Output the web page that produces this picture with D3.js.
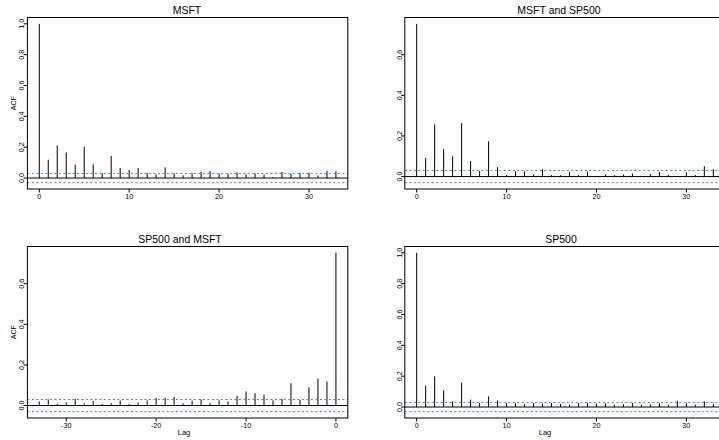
<!DOCTYPE html>
<html>
<head>
<meta charset="utf-8">
<script src="https://cdn.jsdelivr.net/npm/d3@7"></script>
<style>
  body { margin: 0; background: #fff; }
  text { font-family: "Liberation Sans", Arial, Helvetica, sans-serif; fill: #000; }
</style>
</head>
<body>
<div class="chart"></div>
<script>
// ACF of MSFT / SP500 returns

var lags = [0, 1, 2, 3, 4, 5, 6, 7, 8, 9, 10, 11, 12, 13, 14, 15, 16,
  17, 18, 19, 20, 21, 22, 23, 24, 25, 26, 27, 28, 29, 30, 31, 32, 33];
var crossLags = [-33, -32, -31, -30, -29, -28, -27, -26, -25, -24, -23, -22, -21, -20, -19, -18, -17,
  -16, -15, -14, -13, -12, -11, -10, -9, -8, -7, -6, -5, -4, -3, -2, -1, 0];

var msftAcf = [1.0, 0.119, 0.212, 0.165, 0.087, 0.203, 0.089, 0.032, 0.143, 0.065, 0.052, 0.065,
  0.032, 0.024, 0.069, 0.030, 0.017, 0.032, 0.039, 0.045, 0.030, 0.028, 0.037, 0.024,
  0.030, 0.022, 0.006, 0.039, 0.026, 0.032, 0.035, 0.017, 0.048, 0.045];
var msftSp500Acf = [0.752, 0.092, 0.257, 0.135, 0.100, 0.263, 0.076, 0.028, 0.174, 0.046, 0.008, 0.026,
  0.026, 0.010, 0.036, 0.007, 0.007, 0.023, 0.007, 0.025, 0.003, 0.010, 0.007, 0.010,
  0.015, 0.003, 0.013, 0.023, 0.008, 0.003, 0.021, 0.008, 0.051, 0.036];
var sp500MsftAcf = [0.020, 0.030, 0.008, 0.016, 0.033, 0.010, 0.023, 0.008, 0.011, 0.025, 0.007, 0.015,
  0.025, 0.038, 0.038, 0.043, 0.011, 0.025, 0.031, 0.011, 0.026, 0.020, 0.048, 0.069,
  0.061, 0.054, 0.025, 0.033, 0.110, 0.028, 0.090, 0.133, 0.118, 0.752];
var sp500Acf = [1.0, 0.139, 0.199, 0.108, 0.037, 0.158, 0.048, 0.026, 0.069, 0.043, 0.026, 0.024,
  0.019, 0.026, 0.022, 0.026, 0.019, 0.015, 0.026, 0.028, 0.022, 0.024, 0.015, 0.019,
  0.026, 0.015, 0.017, 0.024, 0.015, 0.041, 0.024, 0.015, 0.037, 0.022];

var ciBound = 0.03;

var yTicksFull = [0, 0.2, 0.4, 0.6, 0.8, 1.0];
var yTicksCross = [0, 0.2, 0.4, 0.6];
var xTicksPos = [0, 10, 20, 30];
var xTicksNeg = [-30, -20, -10, 0];

var titles = ["MSFT", "MSFT and SP500", "SP500 and MSFT", "SP500"];

var svgWidth = 719;
var svgHeight = 440;

var plotW = 320.4;
var plotH = 171.5;

var panels = [
  { title: titles[0], lag: lags, acf: msftAcf, yTicks: yTicksFull, xTicks: xTicksPos,
    left: 27.4, top: 17.5, titleX: 187, yLabel: true, lagX: null },
  { title: titles[1], lag: lags, acf: msftSp500Acf, yTicks: yTicksCross, xTicks: xTicksPos,
    left: 404.8, top: 17.5, titleX: 559, yLabel: false, lagX: null },
  { title: titles[2], lag: crossLags, acf: sp500MsftAcf, yTicks: yTicksCross, xTicks: xTicksNeg,
    left: 27.4, top: 246.5, titleX: 180, yLabel: true, lagX: 184 },
  { title: titles[3], lag: lags, acf: sp500Acf, yTicks: yTicksFull, xTicks: xTicksPos,
    left: 404.8, top: 246.5, titleX: 561, yLabel: false, lagX: 545 }
];

var svg = d3.select(".chart")
  .append("svg")
  .attr("width", svgWidth)
  .attr("height", svgHeight);

// R style range: data range padded by 4% each side
function padded(lo, hi) {
  var p = (hi - lo) * 0.04;
  return [lo - p, hi + p];
}

panels.forEach(function(p) {
  var xMin = d3.min(p.lag), xMax = d3.max(p.lag);
  var yMin = Math.min(-ciBound, d3.min(p.acf));
  var yMax = Math.max(ciBound, d3.max(p.acf));

  var x = d3.scaleLinear().domain(padded(xMin, xMax)).range([p.left, p.left + plotW]);
  var y = d3.scaleLinear().domain(padded(yMin, yMax)).range([p.top + plotH, p.top]);

  var g = svg.append("g");

  // spikes
  g.selectAll("line.spike")
    .data(p.acf)
    .enter()
    .append("line")
    .attr("class", "spike")
    .attr("x1", (d, i) => x(p.lag[i]))
    .attr("x2", (d, i) => x(p.lag[i]))
    .attr("y1", y(0))
    .attr("y2", d => y(d))
    .attr("stroke", "#000")
    .attr("stroke-width", 1);

  // zero line
  g.append("line")
    .attr("x1", p.left).attr("x2", p.left + plotW)
    .attr("y1", y(0)).attr("y2", y(0))
    .attr("stroke", "#000")
    .attr("stroke-width", 1);

  // confidence bounds
  [ciBound, -ciBound].forEach(function(c) {
    g.append("line")
      .attr("x1", p.left).attr("x2", p.left + plotW)
      .attr("y1", y(c)).attr("y2", y(c))
      .attr("stroke", "#3b82e0")
      .attr("stroke-width", 1)
      .attr("stroke-dasharray", "2,2.5");
  });

  // box
  g.append("rect")
    .attr("x", p.left).attr("y", p.top)
    .attr("width", plotW).attr("height", plotH)
    .attr("fill", "none")
    .attr("stroke", "#000")
    .attr("stroke-width", 1);

  // y axis
  var yAxis = g.append("g");
  yAxis.selectAll("line")
    .data(p.yTicks)
    .enter()
    .append("line")
    .attr("x1", p.left - 3.5).attr("x2", p.left)
    .attr("y1", d => y(d)).attr("y2", d => y(d))
    .attr("stroke", "#000");
  yAxis.selectAll("text")
    .data(p.yTicks)
    .enter()
    .append("text")
    .attr("transform", d => `translate(${p.left - 3}, ${y(d)}) rotate(-90)`)
    .attr("text-anchor", "middle")
    .attr("font-size", "7.2px")
    .text(d => d3.format(".1f")(d));

  // x axis
  var xAxis = g.append("g");
  xAxis.selectAll("line")
    .data(p.xTicks)
    .enter()
    .append("line")
    .attr("x1", d => x(d)).attr("x2", d => x(d))
    .attr("y1", p.top + plotH).attr("y2", p.top + plotH + 3.5)
    .attr("stroke", "#000");
  xAxis.selectAll("text")
    .data(p.xTicks)
    .enter()
    .append("text")
    .attr("x", d => x(d))
    .attr("y", p.top + plotH + 10)
    .attr("text-anchor", "middle")
    .attr("font-size", "7.2px")
    .text(d => d);

  // title
  g.append("text")
    .attr("x", p.titleX)
    .attr("y", p.top - 3.5)
    .attr("text-anchor", "middle")
    .attr("font-size", "10.5px")
    .text(p.title);

  if (p.yLabel) {
    g.append("text")
      .attr("transform", `translate(15.5, ${p.top + plotH / 2}) rotate(-90)`)
      .attr("text-anchor", "middle")
      .attr("font-size", "7px")
      .text("ACF");
  }

  if (p.lagX !== null) {
    g.append("text")
      .attr("x", p.lagX)
      .attr("y", 434.5)
      .attr("text-anchor", "middle")
      .attr("font-size", "7.5px")
      .text("Lag");
  }
});
</script>
</body>
</html>
